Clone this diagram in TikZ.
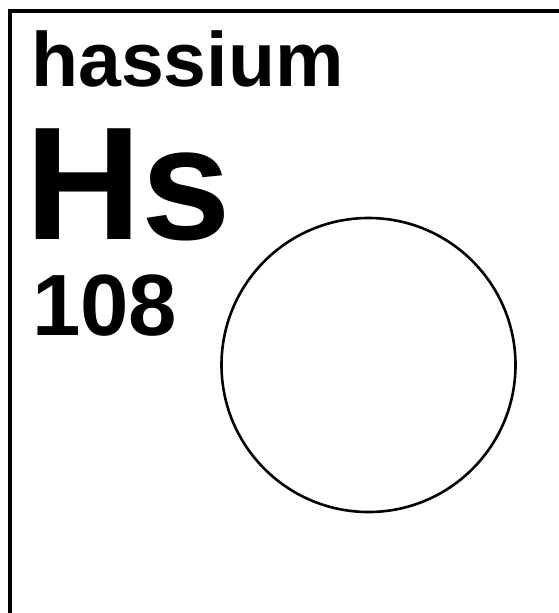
\documentclass[tikz,border=0pt]{standalone}
\usepackage{fontspec}
\setmainfont{Liberation Sans}
\usepackage{tikz}
\usetikzlibrary{positioning}

\begin{document}
\begin{tikzpicture}[
  x=1pt,y=-1pt,
  elemname/.style={anchor=base west,inner sep=0pt,font=\bfseries\fontsize{77}{77}\selectfont},
  elemsym/.style={anchor=base west,inner sep=0pt,font=\bfseries\fontsize{161}{161}\selectfont},
  elemnum/.style={anchor=base west,inner sep=0pt,font=\bfseries\fontsize{87}{87}\selectfont},
  shell/.style={draw,circle,line width=2.6pt,minimum size=294pt,inner sep=0pt}
]
\useasboundingbox (0,0) rectangle (559,613);
\clip (0,0) rectangle (559,613);
\draw[line width=3.8pt] (10,11) rectangle (640,700);
\node[elemname] (elname) at (31,86.7) {hassium};
\node[elemsym] (elsym) at (25,239.3) {Hs};
\node[elemnum] (elnum) at (32,335) {108};
\node[shell] (orbit) at (368.5,365) {};
\end{tikzpicture}
\end{document}
